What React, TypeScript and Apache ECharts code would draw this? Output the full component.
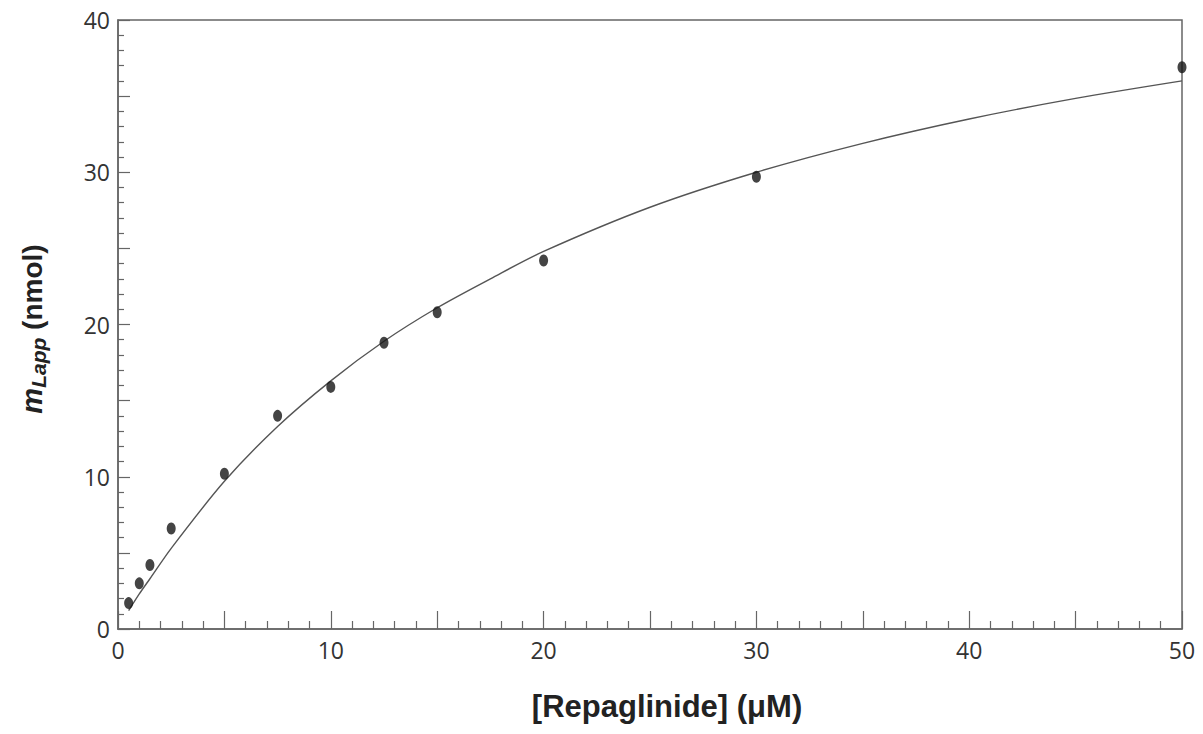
import React, { useEffect, useRef } from "react";
import * as echarts from "echarts";

// Measured points
const concX = [0.5, 1, 1.5, 2.5, 5, 7.5, 10, 12.5, 15, 20, 30, 50];
const amountY = [1.7, 3.0, 4.2, 6.6, 10.2, 14.0, 15.9, 18.8, 20.8, 24.2, 29.7, 36.9];

// Fitted curve
const fitX = [0.5, 1, 1.5, 2.5, 5, 7.5, 10, 12.5, 15, 17.5, 20, 25, 30, 35, 40, 45, 50];
const fitY = [1.2, 2.3, 3.3, 5.3, 9.7, 13.3, 16.3, 18.9, 21.1, 23.0, 24.8, 27.7, 30.0, 31.9, 33.5, 34.85, 36.0];

const xTitle = "[Repaglinide] (μM)";

export default function App() {
  const ref = useRef<HTMLDivElement>(null);
  useEffect(() => {
    if (!ref.current) return;
    const chart = echarts.init(ref.current, undefined, { renderer: "svg" });
    const axisColor = "#666";
    const labelStyle = {
      color: "#333",
      fontFamily: "Open Sans",
      fontSize: 23,
    };
    chart.setOption({
      animation: false,
      backgroundColor: "#fff",
      grid: {
        left: 118,
        top: 20,
        right: 21,
        bottom: 105,
        show: true,
        borderColor: axisColor,
        borderWidth: 1.5,
        backgroundColor: "transparent",
      },
      xAxis: {
        type: "value",
        min: 0,
        max: 50,
        interval: 5,
        axisLine: { show: true, lineStyle: { color: axisColor, width: 1.5 } },
        axisTick: { show: true, inside: true, length: 18, lineStyle: { color: axisColor, width: 1.2 } },
        minorTick: { show: true, splitNumber: 5, length: 8, lineStyle: { color: axisColor, width: 1.2 } },
        splitLine: { show: false },
        minorSplitLine: { show: false },
        axisLabel: {
          ...labelStyle,
          margin: 9,
          formatter: (v: number) => (v % 10 === 0 ? String(v) : ""),
        },
      },
      yAxis: {
        type: "value",
        min: 0,
        max: 40,
        interval: 5,
        axisLine: { show: true, lineStyle: { color: axisColor, width: 1.5 } },
        axisTick: { show: true, inside: true, length: 12, lineStyle: { color: axisColor, width: 1.2 } },
        minorTick: { show: true, splitNumber: 5, length: 6, lineStyle: { color: axisColor, width: 1.2 } },
        splitLine: { show: false },
        minorSplitLine: { show: false },
        axisLabel: {
          ...labelStyle,
          margin: 8,
          formatter: (v: number) => (v % 10 === 0 ? String(v) : ""),
        },
      },
      series: [
        {
          type: "line",
          data: fitX.map((x, i) => [x, fitY[i]]),
          smooth: 0.3,
          showSymbol: false,
          symbol: "none",
          lineStyle: { color: "#555", width: 1.4 },
          z: 2,
        },
        {
          type: "scatter",
          data: concX.map((x, i) => [x, amountY[i]]),
          symbol: "circle",
          symbolSize: [9, 12],
          itemStyle: { color: "#151515" },
          z: 3,
        },
      ],
      graphic: [
        {
          type: "text",
          x: 667,
          y: 706,
          style: {
            text: xTitle,
            font: "bold 31px 'Liberation Sans', Arial, sans-serif",
            fill: "#222",
            align: "center",
            verticalAlign: "middle",
          },
        },
        {
          type: "text",
          x: 35,
          y: 329,
          rotation: Math.PI / 2,
          style: {
            text: "{m|m}{sub|Lapp}{n| (nmol)}",
            align: "center",
            verticalAlign: "middle",
            fill: "#222",
            rich: {
              m: {
                fontFamily: "Liberation Sans",
                fontWeight: "bold",
                fontStyle: "italic",
                fontSize: 29,
                lineHeight: 30,
                padding: [0, 0, 6, 0],
                color: "#222",
              },
              sub: {
                fontFamily: "Liberation Sans",
                fontWeight: "bold",
                fontStyle: "italic",
                fontSize: 21,
                lineHeight: 21,
                padding: [11, 0, 4, 0],
                color: "#222",
              },
              n: {
                fontFamily: "Liberation Sans",
                fontWeight: "bold",
                fontSize: 28,
                lineHeight: 30,
                padding: [0, 0, 6, 0],
                color: "#222",
              },
            },
          },
        },
      ],
    });
    return () => chart.dispose();
  }, []);
  return (
    <div
      ref={ref}
      style={{ position: "absolute", left: 0, top: 0, width: 1203, height: 734 }}
    />
  );
}
